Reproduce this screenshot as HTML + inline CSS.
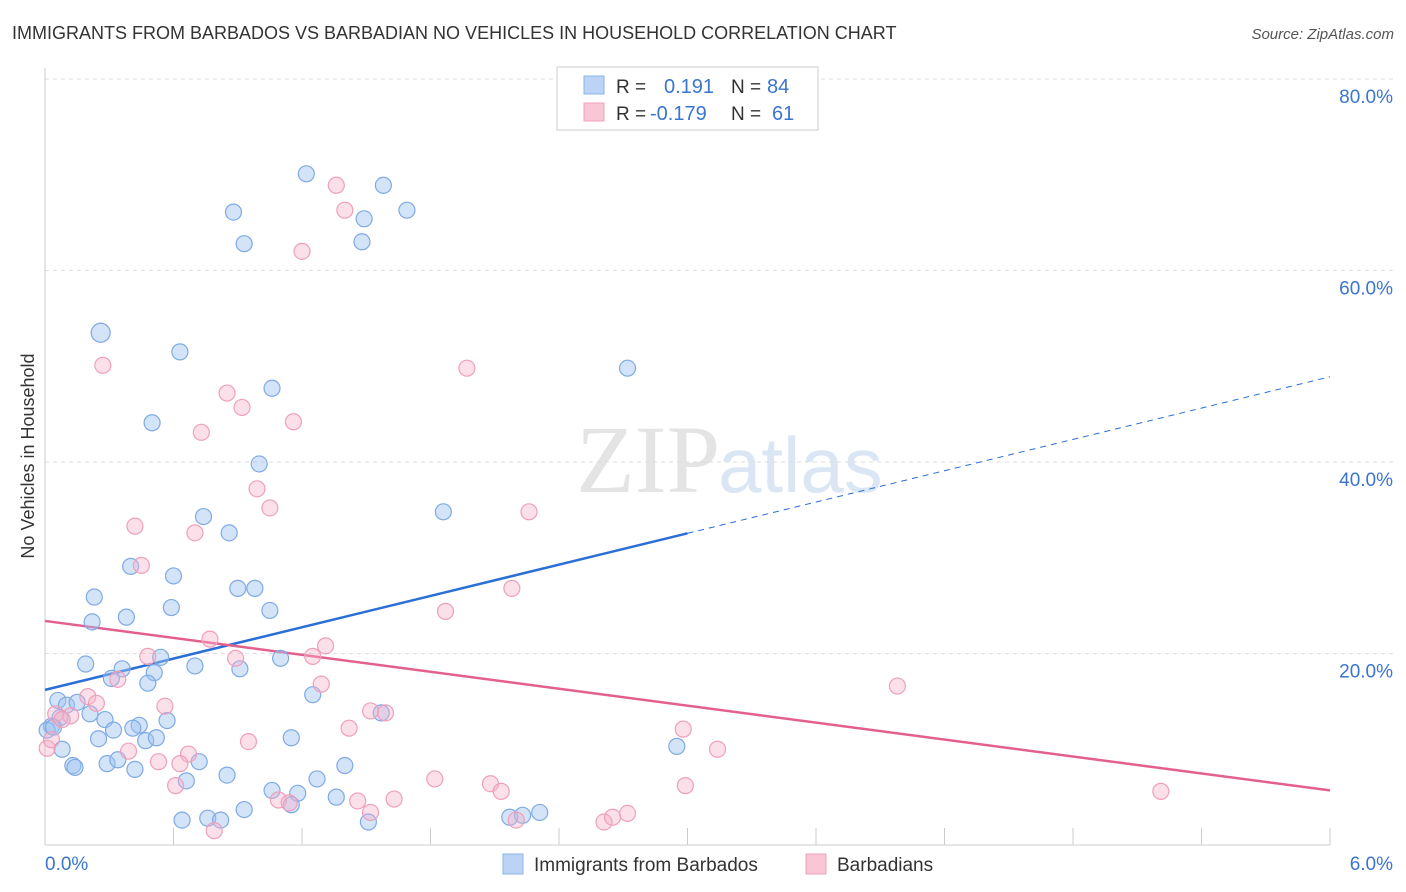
<!DOCTYPE html>
<html><head><meta charset="utf-8"><style>
body{margin:0;background:#fff;font-family:"Liberation Sans",sans-serif}
svg{display:block}
</style></head><body>
<svg id="chart" width="1406" height="892">
<text x="12" y="39" font-size="18" fill="#333">IMMIGRANTS FROM BARBADOS VS BARBADIAN NO VEHICLES IN HOUSEHOLD CORRELATION CHART</text>
<text x="1394" y="39" font-size="15" fill="#555" font-style="italic" text-anchor="end">Source: ZipAtlas.com</text>
<text x="720" y="492" font-size="96" fill="#e4e4e4" text-anchor="end" font-family="Liberation Serif,serif">ZIP</text>
<text x="718" y="492" font-size="78" fill="#dbe6f5">atlas</text>
<text transform="translate(34,456) rotate(-90)" font-size="18" fill="#333" text-anchor="middle">No Vehicles in Household</text>
<g id="grid"></g><g id="axes"></g><g id="lines"></g><g id="pts"></g>
<g>
<rect x="557" y="67" width="261" height="63" fill="#fff" stroke="#ccc"/>
<rect x="584" y="76" width="20" height="18" fill="#bcd3f5" stroke="#8ab4e8"/>
<rect x="584" y="103" width="20" height="18" fill="#f9c6d6" stroke="#f0a0bc"/>
<text x="616" y="93" font-size="19" fill="#333">R = </text><text x="664" y="93" font-size="20" fill="#3a75d0">0.191</text>
<text x="731" y="93" font-size="19" fill="#333">N = </text><text x="767" y="93" font-size="20" fill="#3a75d0">84</text>
<text x="616" y="120" font-size="19" fill="#333">R = </text><text x="650" y="120" font-size="20" fill="#3a75d0">-0.179</text>
<text x="731" y="120" font-size="19" fill="#333">N = </text><text x="772" y="120" font-size="20" fill="#3a75d0">61</text>
</g>
<g>
<rect x="503" y="854" width="20" height="20" fill="#bcd3f5" stroke="#8ab4e8"/>
<text x="534" y="871" font-size="19" fill="#333">Immigrants from Barbados</text>
<rect x="806" y="854" width="20" height="20" fill="#f9c6d6" stroke="#f0a0bc"/>
<text x="837" y="871" font-size="19" fill="#333">Barbadians</text>
</g>
</svg>
<script>
const xTicks=[0,6];
const yTicks=[20,40,60,80];
const blueX=[0.26,0.63,0.50,0.88,0.93,1.22,1.58,1.49,1.48,1.69,2.72,1.06,1.00,0.74,0.86,1.86,0.40,0.60,0.90,0.98,0.23,0.59,1.05,0.38,0.22,0.19,0.36,0.54,0.70,0.91,1.10,0.51,0.48,0.31,1.25,0.06,0.10,0.15,0.21,0.07,0.03,0.01,0.04,0.28,0.44,0.57,0.41,0.32,0.25,0.47,0.52,1.15,1.40,0.08,0.13,0.14,0.29,0.34,0.42,0.72,0.85,0.66,1.27,1.06,1.18,1.36,1.57,2.95,0.93,0.64,0.76,0.82,1.51,2.17,2.23,2.31,1.15];
const blueY=[53.5,51.5,44.1,66.1,62.8,70.1,68.9,65.4,63.0,66.3,49.8,47.7,39.8,34.3,32.6,34.8,29.1,28.1,26.8,26.8,25.9,24.8,24.5,23.8,23.3,18.9,18.4,19.6,18.7,18.4,19.5,18.0,16.9,17.4,15.7,15.1,14.6,14.9,13.7,13.3,12.4,12.0,12.3,13.1,12.5,13.0,12.2,12.0,11.1,10.9,11.2,11.2,8.3,10.0,8.3,8.1,8.5,8.9,7.9,8.7,7.3,6.7,6.9,5.7,5.4,5.0,13.8,10.3,3.7,2.6,2.8,2.6,2.4,2.9,3.1,3.4,4.2];
const pinkX=[0.27,1.36,1.40,1.20,1.97,0.85,0.92,1.16,0.73,0.99,1.05,0.42,0.70,0.45,2.26,2.18,1.87,0.77,1.31,1.25,0.48,0.89,1.29,0.34,0.20,0.24,0.56,0.05,0.12,0.08,0.01,0.03,0.39,0.67,0.53,0.63,0.95,1.42,1.52,1.59,3.98,2.98,3.14,1.82,2.08,2.13,2.99,5.21,0.61,1.09,1.14,1.46,1.63,1.52,2.20,2.61,2.65,2.72,0.79];
const pinkY=[50.1,68.9,66.3,62.0,49.8,47.2,45.7,44.2,43.1,37.2,35.2,33.3,32.6,29.2,34.8,26.8,24.4,21.5,20.8,19.7,19.7,19.5,16.8,17.3,15.5,14.8,14.5,13.7,13.5,13.1,10.1,11.0,9.8,9.5,8.7,8.5,10.8,12.2,14.0,13.8,16.6,12.1,10.0,6.9,6.4,5.6,6.2,5.6,6.2,4.7,4.4,4.6,4.8,3.4,2.6,2.4,2.9,3.3,1.5];
const blueTrend=[16.2,48.9];
const pinkTrend=[23.4,5.7];
const NS='http://www.w3.org/2000/svg';
const X=v=>45+v*214.17, Y=v=>845-v*9.575;
function mk(tag,at,parent){const e=document.createElementNS(NS,tag);for(const k in at)e.setAttribute(k,at[k]);document.getElementById(parent).appendChild(e);return e;}
yTicks.forEach(t=>{
 const g=mk('line',{x1:45,x2:1395,y1:Y(t),y2:Y(t),stroke:'#ddd','stroke-dasharray':'4,4'},'grid');
 
 
 const l=mk('text',{x:1393,y:Y(t)+24,'font-size':19,fill:'#3a75d0','text-anchor':'end'},'grid');
 l.textContent=t.toFixed(1)+'%';
 
 
});
const ax=mk('line',{x1:45,x2:45,y1:68,y2:845,stroke:'#ccc'},'axes');


const bx=mk('line',{x1:45,x2:1330,y1:845,y2:845,stroke:'#ccc'},'axes');


for(let i=1;i<=10;i++){const t=mk('line',{x1:X(i*0.6),x2:X(i*0.6),y1:828,y2:845,stroke:'#ccc'},'axes');
 
 }
xTicks.forEach((t,i)=>{const l=mk('text',{x:i?1393:45,y:870,'font-size':19,fill:'#3a75d0','text-anchor':i?'end':'start'},'axes');
 l.textContent=t.toFixed(1)+'%';
 
 });
function pts(xs,ys,fill,stroke,name){xs.forEach((x,i)=>{const c=mk('circle',{cx:X(x),cy:Y(ys[i]),r:(i===0&&name==='blue-point')?9.5:8,fill:fill,stroke:stroke,'stroke-width':1.2},'pts');
 
 });}
pts(blueX,blueY,'rgba(160,195,240,0.45)','#7eaae6','blue-point');
pts(pinkX,pinkY,'rgba(245,175,200,0.4)','#eea0bb','pink-point');
const bm=blueTrend[0]+(blueTrend[1]-blueTrend[0])*0.5;
const b1=mk('line',{x1:X(0),y1:Y(blueTrend[0]),x2:X(3),y2:Y(bm),stroke:'#2a6fd6','stroke-width':2.5},'lines');


const b2=mk('line',{x1:X(3),y1:Y(bm),x2:X(6),y2:Y(blueTrend[1]),stroke:'#2a6fd6','stroke-width':1,'stroke-dasharray':'6,5'},'lines');


const p1=mk('line',{x1:X(0),y1:Y(pinkTrend[0]),x2:X(6),y2:Y(pinkTrend[1]),stroke:'#e4608c','stroke-width':2.5},'lines');


</script>
</body></html>
